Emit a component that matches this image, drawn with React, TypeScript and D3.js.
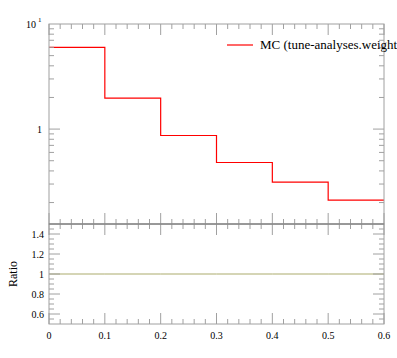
import * as d3 from 'd3';

// histogram bins (x edges) and MC values
const binEdges = [0, 0.1, 0.2, 0.3, 0.4, 0.5, 0.6];
const mcValues = [6.0, 1.97, 0.869, 0.481, 0.313, 0.211];
const ratioValues = [1, 1, 1, 1, 1, 1];

const xTickLabels = ['0', '0.1', '0.2', '0.3', '0.4', '0.5', '0.6'];
const ratioTicks = [0.6, 0.8, 1, 1.2, 1.4];
const ratioTickLabels = ['0.6', '0.8', '1', '1.2', '1.4'];
const legendLabel = 'MC (tune-analyses.weight';

const W = 397;
const H = 358;
const left = 49;
const right = 384;
const mainTop = 24;
const mainBottom = 224;
const ratioBottom = 324;

const frameColor = '#a0a0a0';
const font = "'Liberation Serif', 'DejaVu Serif', serif";

export default function App() {
  const x = d3.scaleLinear().domain([0, 0.6]).range([left, right]);
  const y = d3.scaleLog().domain([0.125, 10]).range([mainBottom, mainTop]);
  const yr = d3.scaleLinear().domain([0.5, 1.5]).range([ratioBottom, mainBottom]);

  const xMajor = d3.range(0, 7).map(i => i / 10);
  const xMinor = d3.range(0, 31).map(i => i / 50).filter((_, i) => i % 5 !== 0);

  const yMinor = [0.2, 0.3, 0.4, 0.5, 0.6, 0.7, 0.8, 0.9, 2, 3, 4, 5, 6, 7, 8, 9];
  const rMinor = d3.range(11, 30).map(i => i / 20).filter(v => !ratioTicks.some(t => Math.abs(t - v) < 1e-6));

  // turn bin values into step points
  const step = (vals: number[]) => {
    const pts: [number, number][] = [];
    vals.forEach((v, i) => {
      pts.push([binEdges[i], v]);
      pts.push([binEdges[i + 1], v]);
    });
    return pts;
  };

  const mainLine = d3.line<[number, number]>().x(d => x(d[0])).y(d => y(d[1]));
  const ratioLine = d3.line<[number, number]>().x(d => x(d[0])).y(d => yr(d[1]));

  const xTicks = (yEdge: number, dir: number, key: string) => (
    <g key={key} stroke={frameColor} strokeWidth={1}>
      {xMajor.map(v => (
        <line key={'M' + v} x1={x(v)} x2={x(v)} y1={yEdge} y2={yEdge + dir * 11} />
      ))}
      {xMinor.map(v => (
        <line key={'m' + v} x1={x(v)} x2={x(v)} y1={yEdge} y2={yEdge + dir * 5} />
      ))}
    </g>
  );

  const yTicks = (scale: (v: number) => number, major: number[], minor: number[], key: string) => (
    <g key={key} stroke={frameColor} strokeWidth={1}>
      {major.map(v => (
        <g key={'M' + v}>
          <line x1={left} x2={left + 11} y1={scale(v)} y2={scale(v)} />
          <line x1={right} x2={right - 11} y1={scale(v)} y2={scale(v)} />
        </g>
      ))}
      {minor.map(v => (
        <g key={'m' + v}>
          <line x1={left} x2={left + 5} y1={scale(v)} y2={scale(v)} />
          <line x1={right} x2={right - 5} y1={scale(v)} y2={scale(v)} />
        </g>
      ))}
    </g>
  );

  return (
    <svg width={W} height={H} style={{ position: 'absolute', left: 0, top: 0, background: '#fff', fontFamily: font }}>
      {/* main panel */}
      <path d={mainLine(step(mcValues)) || ''} fill="none" stroke="#ff0000" strokeWidth={1.2} />
      {yTicks(y, [1], yMinor, 'ym')}
      {xTicks(mainTop, 1, 'xt')}
      {xTicks(mainBottom, -1, 'xb')}
      <rect x={left} y={mainTop} width={right - left} height={mainBottom - mainTop} fill="none" stroke={frameColor} />

      {/* ratio panel */}
      <path d={ratioLine(step(ratioValues)) || ''} fill="none" stroke="#abab6c" strokeWidth={1} />
      {yTicks(yr, ratioTicks, rMinor, 'yr')}
      {xTicks(mainBottom, 1, 'rt')}
      {xTicks(ratioBottom, -1, 'rb')}
      <rect x={left} y={mainBottom} width={right - left} height={ratioBottom - mainBottom} fill="none" stroke={frameColor} />
      <line x1={left} x2={right} y1={mainBottom} y2={mainBottom} stroke="#7a7a7a" />

      {/* y labels, main */}
      <text x={36} y={y(10) + 4} fontSize={10} textAnchor="end">10</text>
      <text x={38} y={y(10) - 2} fontSize={7}>1</text>
      <text x={left - 7} y={y(1) + 4} fontSize={10} textAnchor="end">1</text>

      {/* y labels, ratio */}
      {ratioTicks.map((v, i) => (
        <text key={v} x={left - 5} y={yr(v) + 4} fontSize={10} textAnchor="end">{ratioTickLabels[i]}</text>
      ))}
      <text transform={`translate(17,${yr(1)}) rotate(-90)`} fontSize={12} textAnchor="middle">Ratio</text>

      {/* x labels */}
      {xMajor.map((v, i) => (
        <text key={v} x={x(v)} y={ratioBottom + 15} fontSize={10} textAnchor="middle">{xTickLabels[i]}</text>
      ))}

      {/* legend */}
      <line x1={227} x2={253} y1={45} y2={45} stroke="#ff0000" strokeWidth={1.2} />
      <text x={260} y={49} fontSize={13}>{legendLabel}</text>
    </svg>
  );
}
